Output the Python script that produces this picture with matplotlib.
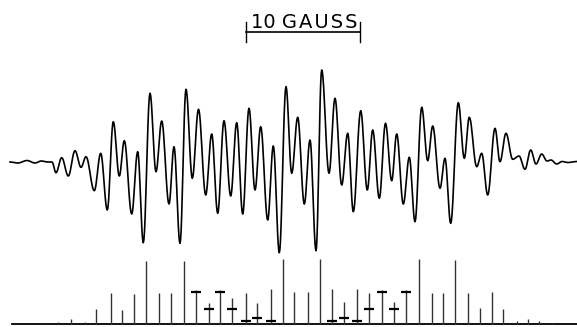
import numpy as np
import matplotlib
matplotlib.use('Agg')
import matplotlib.pyplot as plt

# derivative trace: turning points (field position, deflection from baseline)
trace_field = [10, 18, 27, 35, 41, 48, 52,
               56, 61.7, 68.3, 75, 81, 86, 94.3, 100.7, 107.3, 113.3, 119.3, 124.3,
               131.7, 137.7, 143.3, 150, 156, 161.7, 169, 174, 180, 186, 192.3, 198.5,
               205.7, 211.7, 217.7, 224, 230.7, 236.7, 242.7, 249, 255, 260.7, 267.7,
               273.3, 279.3, 286, 291.7, 297.7, 304.3, 310, 316, 321.7, 329, 335,
               341.7, 347.7, 353.3, 360.7, 367.3, 372.7, 379.3, 385.5, 391.7, 396.7,
               403.3, 409.3, 415, 421.7, 427.7, 432.7, 440, 445, 450.7, 458.3, 464.3,
               469.3, 476.7, 481.7, 487.7, 495, 500, 506, 512.7, 519, 525, 530.7, 536,
               541.7, 547, 551, 556.7, 562, 568, 577]
trace_y = [162, 163, 160.5, 163, 161, 162, 162,
           172.7, 157.7, 176, 150.7, 167.3, 156.7, 190.7, 153.3, 210, 121.7, 176, 140.7,
           214, 151.7, 242.7, 93.3, 171.7, 121, 204, 146.7, 243.3, 89.3, 178.3, 109.3,
           195, 134, 213.3, 120.7, 196, 122.7, 214, 108.3, 190, 126.7, 220,
           146, 252.7, 86.7, 173.3, 117.3, 204, 140, 250.7, 70, 173.3, 98.3,
           185, 133.3, 211.7, 110.7, 190, 130, 198.3, 123.3, 180.7, 134,
           204, 157.3, 221.7, 107.3, 160.7, 126, 188.3, 158.3, 223.3, 102.7, 158.3,
           117.3, 166.7, 153.3, 195, 128.3, 161.7, 133.3, 159.3, 156, 169.3, 150, 164,
           154, 161, 160, 164, 161.5, 162.5, 161.5]
trace_base = 161.5
trace_defl = [trace_base - v for v in trace_y]

# stick diagram: line positions, relative intensities, and marker heights
stick_field = [45, 58, 71, 85, 96, 111, 122, 134, 146, 159, 171, 184,
               196, 209, 220, 232, 246, 257, 271,
               283, 294, 308, 320,
               332, 344, 357, 369, 382, 394, 406,
               419, 432, 443, 455, 468, 480, 492, 503, 517, 528, 539, 552]
stick_height = [1, 2, 5, 2, 15, 31, 14, 30, 63, 31, 31, 63,
                34, 21, 34, 26, 31, 21, 35,
                65, 32, 32, 65,
                35, 22, 35, 31, 34, 22, 34,
                65, 31, 31, 64, 31, 16, 32, 15, 3, 5, 3, 1]
cross_field = [196, 209, 220, 232, 246, 257, 271,
               332, 344, 357, 369, 382, 394, 406]
cross_height = [32, 15, 32, 15, 3, 6, 3,
                3, 6, 3, 15, 32, 15, 32]

scale_label = '10 G\u200aA\u200aU\u200aS\u200aS'
scale_start = 245.7
scale_len = 114.3   # 10 gauss

#______________________________________________________________________________

def smooth_turns(xs, ys, n = 12):
    # half-cosine between each pair of turning points
    outx, outy = [xs[0]], [ys[0]]
    for i in range(len(xs) - 1):
        t = np.linspace(0, 1, n)[1:]
        outx.extend(xs[i] + (xs[i+1] - xs[i]) * t)
        outy.extend(ys[i] + (ys[i+1] - ys[i]) * (1 - np.cos(np.pi * t)) / 2)
    return outx, outy

fig = plt.figure(figsize = [5.77, 3.27], dpi = 100)

top = fig.add_axes([0, 67/327, 1, 260/327])
top.set_xlim(0, 577)
top.set_ylim(trace_base - 260, trace_base)
top.axis('off')

tx, ty = smooth_turns(trace_field, trace_defl)
top.plot(tx, ty, color = 'black', lw = 1.2, solid_joinstyle = 'round')

# scale bar
bar_y = trace_base - 31.7
top.plot([scale_start, scale_start + scale_len], [bar_y, bar_y], color = 'black', lw = 1.2)
for xe in [scale_start, scale_start + scale_len]:
    top.plot([xe, xe], [bar_y + 10, bar_y - 10], color = 'black', lw = 1.0)
top.text(scale_start + 5, bar_y + 4, scale_label, fontsize = 14,
         ha = 'left', va = 'baseline', family = 'DejaVu Sans')

bot = fig.add_axes([0, 0, 1, 77/327])
bot.set_xlim(0, 577)
bot.set_ylim(-3, 74)
bot.axis('off')

bot.plot([12, 577], [0, 0], color = 'black', lw = 1.3)
bot.vlines(stick_field, 0, stick_height, color = '#333333', lw = 1.0)
bot.plot(cross_field, cross_height, ls = 'none', marker = '_', ms = 7,
         mew = 1.6, color = 'black')

plt.savefig('out.png', dpi = 100)
